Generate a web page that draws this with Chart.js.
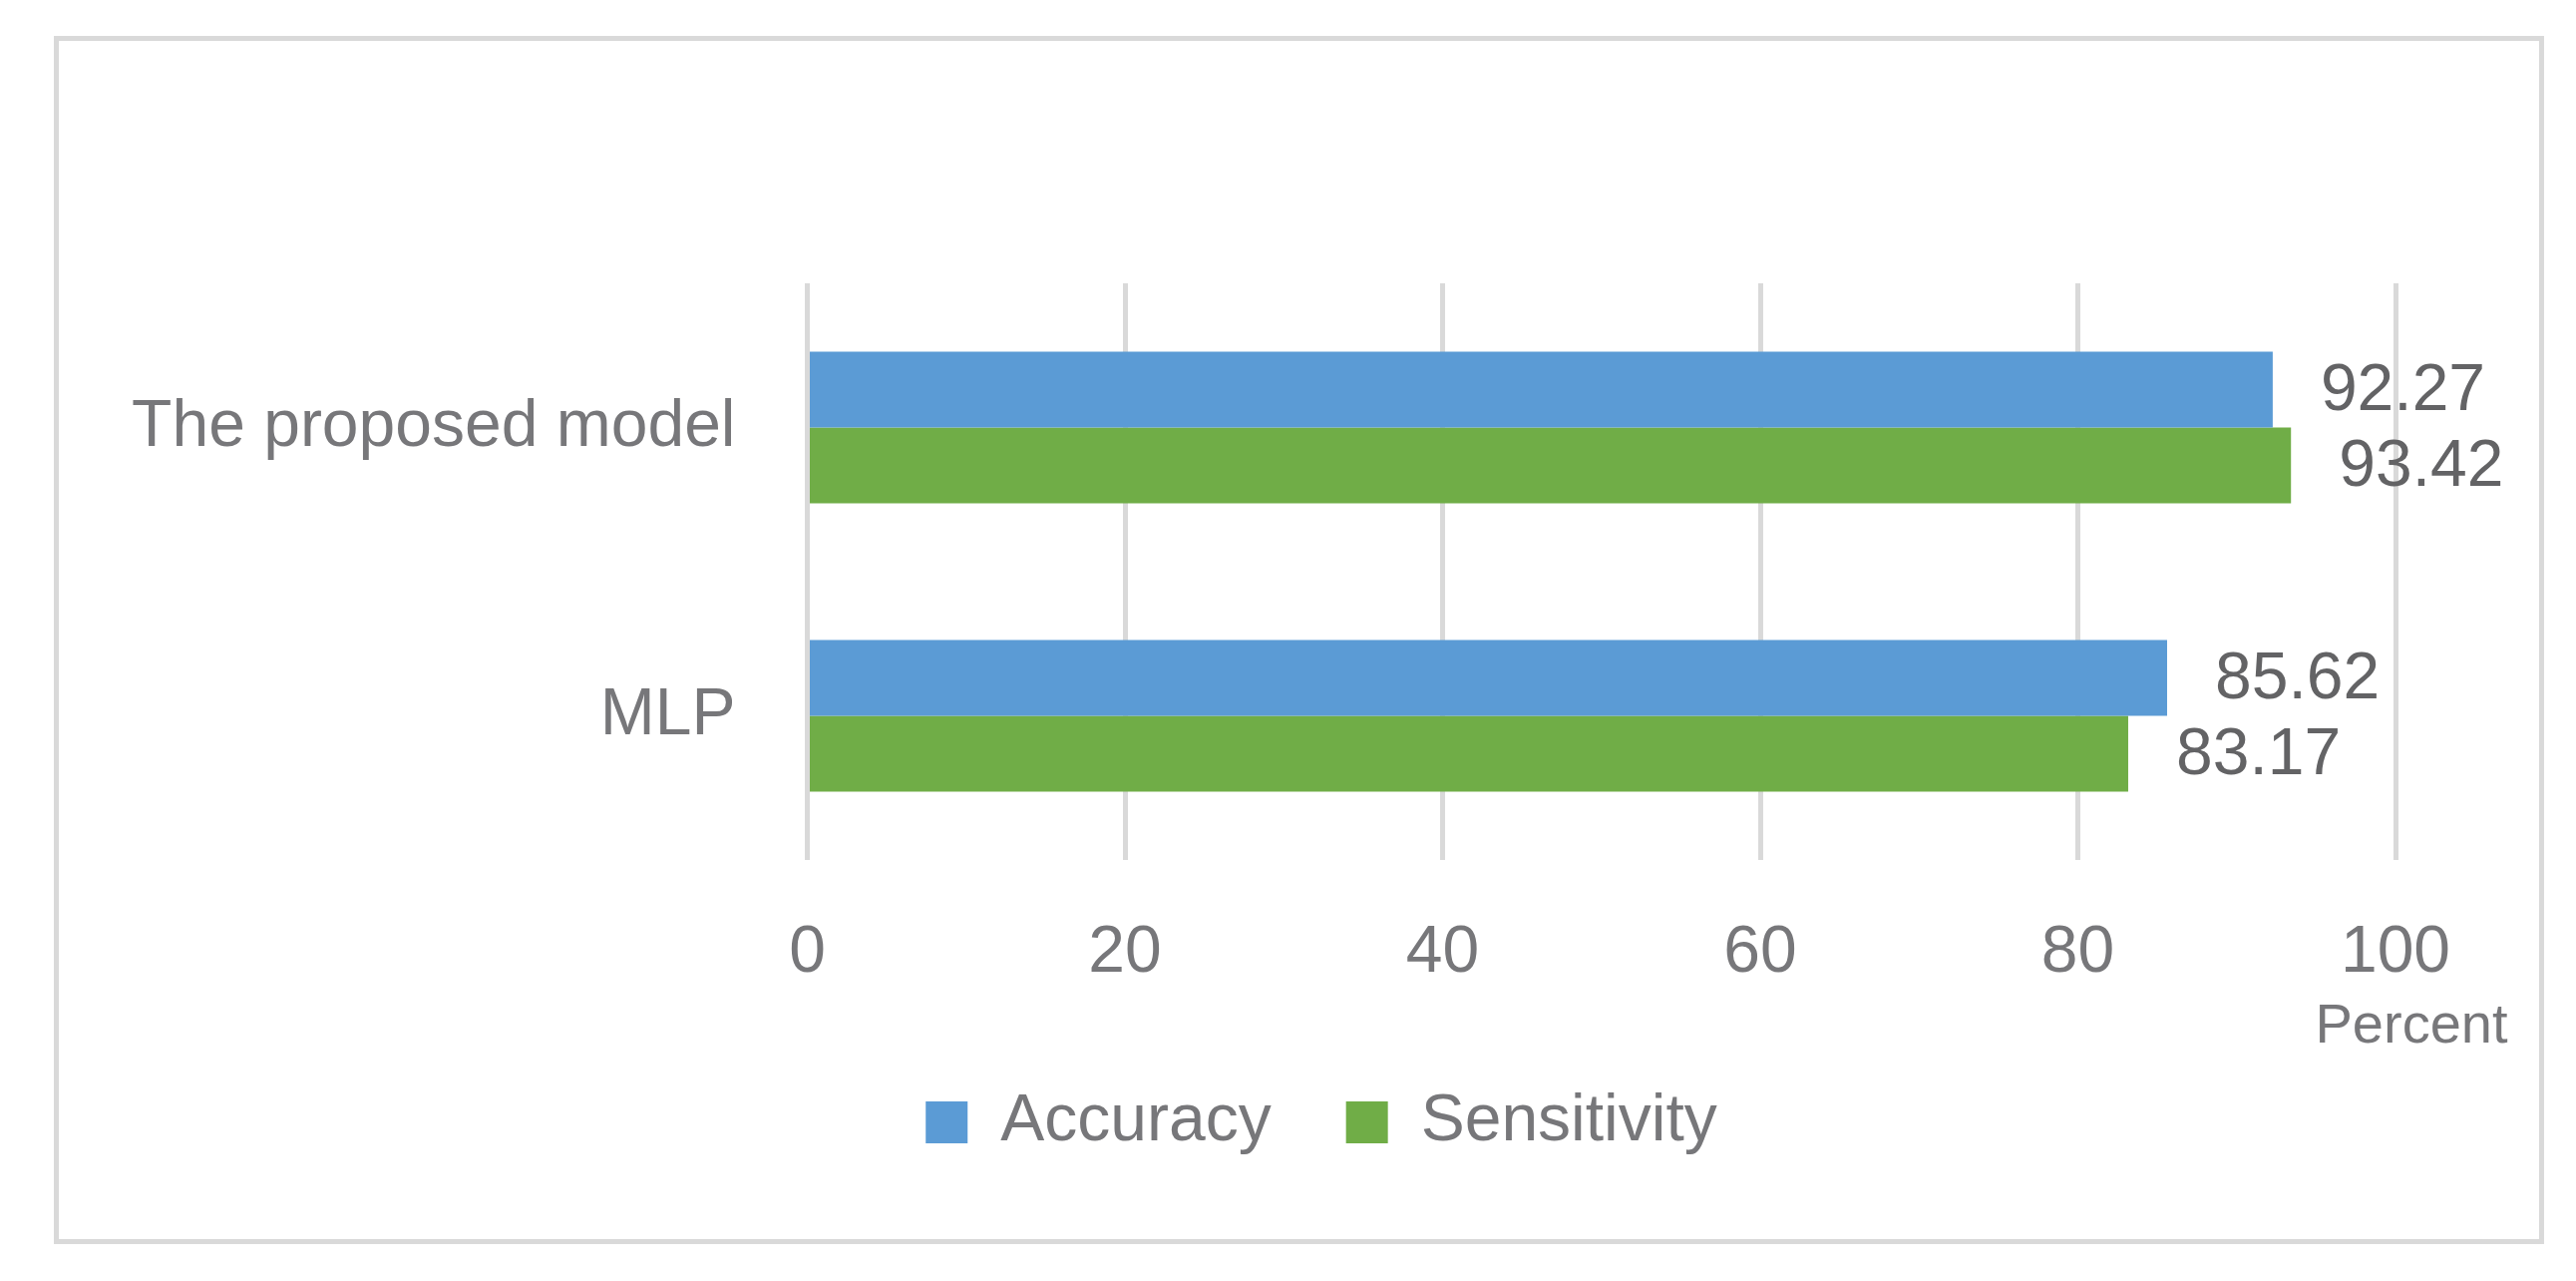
<!DOCTYPE html>
<html>
<head>
<meta charset="utf-8">
<script src="https://cdn.jsdelivr.net/npm/chart.js@4.4.1/dist/chart.umd.min.js"></script>
<style>
  html, body { margin: 0; padding: 0; background: #ffffff; }
  canvas { display: block; }
</style>
</head>
<body>
<canvas id="c" width="2583" height="1284"></canvas>
<script>
// ---- data ----
const categories = ["The proposed model", "MLP"];
const seriesNames = ["Accuracy", "Sensitivity"];
const accuracy = [92.27, 85.62];
const sensitivity = [93.42, 83.17];
const xTicks = [0, 20, 40, 60, 80, 100];
const axisUnit = "Percent";

// ---- style ----
const FONT = '"Liberation Sans", Arial, sans-serif';
const AXIS_COLOR = '#77777a';
const LABEL_COLOR = '#636365';
const GRID_COLOR = '#d9d9d9';

const framePlugin = {
  id: 'frame',
  beforeDraw(chart) {
    const ctx = chart.ctx;
    ctx.save();
    ctx.fillStyle = '#ffffff';
    ctx.fillRect(0, 0, chart.width, chart.height);
    ctx.strokeStyle = GRID_COLOR;
    ctx.lineWidth = 5;
    ctx.strokeRect(56.5, 38.5, 2492, 1206);
    ctx.restore();
  }
};

const valueLabels = {
  id: 'valueLabels',
  afterDatasetsDraw(chart) {
    const ctx = chart.ctx;
    ctx.save();
    ctx.font = '66px ' + FONT;
    ctx.fillStyle = LABEL_COLOR;
    ctx.textAlign = 'left';
    ctx.textBaseline = 'middle';
    chart.data.datasets.forEach((ds, di) => {
      const meta = chart.getDatasetMeta(di);
      meta.data.forEach((bar, i) => {
        ctx.fillText(ds.data[i].toFixed(2), bar.x + 48, bar.y + 2);
      });
    });
    const xs = chart.scales.x;
    ctx.font = '56px ' + FONT;
    ctx.fillStyle = AXIS_COLOR;
    ctx.textAlign = 'center';
    ctx.textBaseline = 'alphabetic';
    ctx.fillText(axisUnit, xs.getPixelForValue(xTicks[xTicks.length - 1]) + 16, 1045);
    ctx.restore();
  }
};

new Chart(document.getElementById('c'), {
  type: 'bar',
  data: {
    labels: categories,
    datasets: [
      { label: seriesNames[0], data: accuracy, backgroundColor: '#5b9bd5', borderWidth: 0,
        categoryPercentage: 0.526, barPercentage: 1.0 },
      { label: seriesNames[1], data: sensitivity, backgroundColor: '#70ad47', borderWidth: 0,
        categoryPercentage: 0.526, barPercentage: 1.0 }
    ]
  },
  options: {
    indexAxis: 'y',
    responsive: false,
    animation: false,
    devicePixelRatio: 1,
    layout: { padding: { left: 248, right: 181, top: 284, bottom: 116 } },
    scales: {
      x: {
        min: 0, max: 100,
        afterBuildTicks(scale) { scale.ticks = xTicks.map(v => ({ value: v })); },
        afterFit(scale) { scale.height = 155; },
        grid: { color: GRID_COLOR, lineWidth: 5, drawTicks: false },
        border: { display: false },
        ticks: { color: AXIS_COLOR, font: { size: 66, family: FONT }, padding: 54 }
      },
      y: {
        afterFit(scale) {
          scale.width = 561.5;
          // let long category labels extend left of the axis box without clipping
          scale._computeLabelArea = () => undefined;
        },
        grid: { display: false, drawTicks: false },
        border: { display: false },
        ticks: { color: AXIS_COLOR, font: { size: 66, family: FONT }, padding: 72 }
      }
    },
    plugins: {
      legend: {
        position: 'bottom',
        align: 'center',
        labels: {
          boxWidth: 42, boxHeight: 42, padding: 75,
          color: AXIS_COLOR,
          font: { size: 66, family: FONT }
        }
      },
      tooltip: { enabled: false }
    }
  },
  plugins: [framePlugin, valueLabels]
});
</script>
</body>
</html>
